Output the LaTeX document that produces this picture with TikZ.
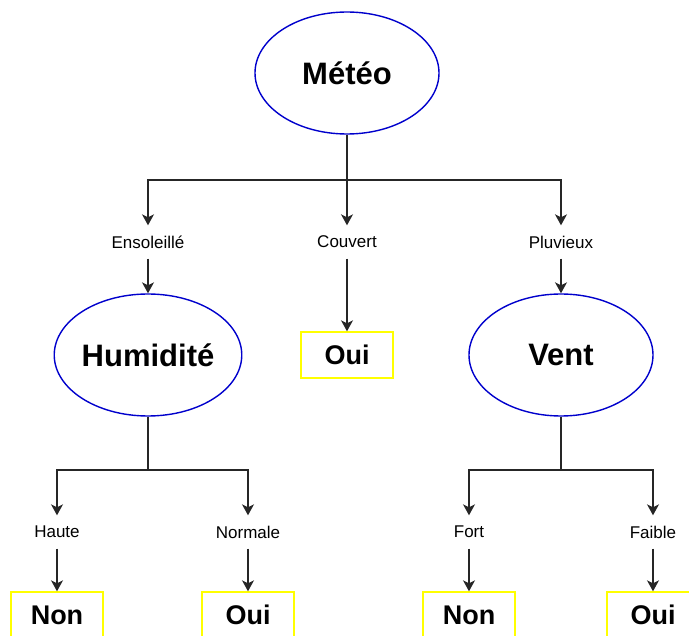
\documentclass[tikz,border=0pt]{standalone}
\usepackage{fontspec}
\setmainfont{Liberation Sans}
\usetikzlibrary{shapes.geometric,arrows.meta}
\definecolor{nodeblue}{RGB}{0,0,204}
\definecolor{leafyellow}{RGB}{255,255,0}
\begin{document}
\begin{tikzpicture}[x=1pt,y=-1pt,
  attr/.style={ellipse,draw=nodeblue,line width=1.4pt,minimum width=184pt,minimum height=122pt,inner sep=0pt,font=\fontsize{31}{33}\selectfont\bfseries},
  leaf/.style={rectangle,draw=leafyellow,line width=1.4pt,minimum width=92pt,minimum height=46pt,inner sep=0pt,font=\fontsize{27}{29}\selectfont\bfseries},
  val/.style={rectangle,minimum height=33pt,inner sep=0pt,font=\fontsize{17}{19}\selectfont},
  arr/.style={draw=black!85,line width=1.3pt,-{Stealth[length=11pt,width=12pt,inset=3pt]}},
  ln/.style={draw=black!85,line width=1.3pt}]
\useasboundingbox (0,0) rectangle (689,636);
\clip (0,0) rectangle (689,636);

% attribute nodes
\node[attr] (meteo) at (347,73) {Météo};
\node[attr] (hum) at (148,355) {Humidité};
\node[attr] (vent) at (561,355) {Vent};

% branch values
\node[val] (enso) at (148,242) {Ensoleillé};
\node[val] (couv) at (347,242) {Couvert};
\node[val] (pluv) at (561,242) {Pluvieux};
\node[val] (haute) at (57,532) {Haute};
\node[val] (norm) at (248,532) {Normale};
\node[val] (fort) at (469,532) {Fort};
\node[val] (faib) at (653,532) {Faible};

% leaves
\node[leaf] (oui1) at (347,355) {Oui};
\node[leaf] (non1) at (57,615) {Non};
\node[leaf] (oui2) at (248,615) {Oui};
\node[leaf] (non2) at (469,615) {Non};
\node[leaf] (oui3) at (653,615) {Oui};

% junctions
\coordinate (j0) at (347,180);
\coordinate (j1) at (148,470);
\coordinate (j2) at (561,470);

% edges from Météo
\draw[ln] (meteo.south) -- (j0);
\draw[arr] (j0) -| (enso.north);
\draw[arr] (j0) -- (couv.north);
\draw[arr] (j0) -| (pluv.north);
\draw[arr] (enso.south) -- (hum.north);
\draw[arr] (couv.south) -- (oui1.north);
\draw[arr] (pluv.south) -- (vent.north);

% edges from Humidité
\draw[ln] (hum.south) -- (j1);
\draw[arr] (j1) -| (haute.north);
\draw[arr] (j1) -| (norm.north);
\draw[arr] (haute.south) -- (non1.north);
\draw[arr] (norm.south) -- (oui2.north);

% edges from Vent
\draw[ln] (vent.south) -- (j2);
\draw[arr] (j2) -| (fort.north);
\draw[arr] (j2) -| (faib.north);
\draw[arr] (fort.south) -- (non2.north);
\draw[arr] (faib.south) -- (oui3.north);
\end{tikzpicture}
\end{document}
